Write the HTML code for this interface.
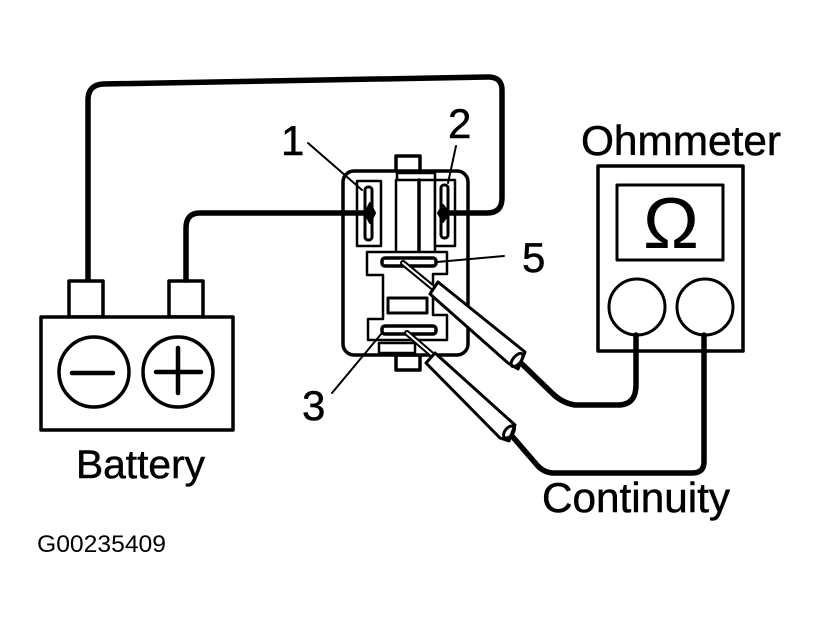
<!DOCTYPE html>
<html>
<head>
<meta charset="utf-8">
<style>
html,body{margin:0;padding:0;background:#fff;}
svg{display:block;}
text{font-family:"Liberation Sans",sans-serif;fill:#000;stroke:#000;stroke-width:0.5px;}
</style>
</head>
<body>
<svg width="818" height="626" viewBox="0 0 818 626" xmlns="http://www.w3.org/2000/svg">
<rect width="818" height="626" fill="#fff"/>
<g fill="none" stroke="#000" stroke-linejoin="round" stroke-linecap="round">
  <!-- Battery -->
  <g stroke-width="3.5">
    <rect x="69" y="281" width="34" height="36"/>
    <rect x="169" y="281" width="34" height="36"/>
    <rect x="41" y="317" width="192" height="113" fill="#fff"/>
    <circle cx="94" cy="372" r="35"/>
    <circle cx="178" cy="372" r="35"/>
    <path d="M72 373H113" stroke-width="4.5"/>
    <path d="M156 372H201M178 348V393" stroke-width="4.5"/>
  </g>

  <!-- Relay -->
  <rect x="396" y="156" width="24" height="17" stroke-width="3.5"/>
  <rect x="396" y="355" width="24" height="15" stroke-width="3.5"/>
  <rect x="343" y="171" width="125" height="184" rx="11" fill="#fff" stroke-width="3.5"/>
  <path d="M397 173H435V180H397ZM396 180V252" stroke-width="2.5"/>
  <path d="M419 180V252" stroke-width="3.5"/>
  <path d="M435 180V252" stroke-width="2.5"/>
  <rect x="357" y="181" width="24" height="65" stroke-width="2.5" fill="#fff"/>
  <rect x="435" y="180" width="20" height="66" stroke-width="2.5" fill="#fff"/>
  <rect x="365" y="187" width="7" height="53" rx="3" stroke-width="3"/>
  <rect x="441" y="185" width="7" height="53" rx="3" stroke-width="3"/>
  <path d="M367 252H447V274H433V315H447V340H368V319H383V275H367Z" fill="#fff" stroke-width="2.5"/>
  <rect x="382" y="258" width="54" height="8" rx="3" stroke-width="3.5"/>
  <rect x="382" y="326" width="54" height="8" rx="3" stroke-width="3.5"/>
  <rect x="388" y="298" width="39" height="15" stroke-width="3"/>
  <rect x="379" y="343" width="36" height="10" stroke-width="2.5"/>

  <!-- Battery wires, drawn over the relay -->
  <path d="M88 280V100Q88 85 103 84L488 77Q502 77 502 90V198Q502 213 487 213H445" stroke-width="5.5"/>
  <path d="M186 280V228Q186 213 200 213H370" stroke-width="5.5"/>

  <!-- Wire contacts -->
  <path d="M370 203L375 213L370 223L365 213Z" fill="#000" stroke-width="2"/>
  <path d="M443 205L449 213L443 222L438 213Z" fill="#000" stroke-width="2"/>

  <!-- Leader lines -->
  <g stroke-width="2">
    <path d="M308 143L362 190"/>
    <path d="M456 146L448 183"/>
    <path d="M332 393L382 333"/>
    <path d="M437 262L504 256"/>
  </g>

  <!-- Probe tips -->
  <path d="M403 263L437 291" stroke-width="6"/>
  <path d="M403 263L437 291" stroke="#fff" stroke-width="2"/>
  <path d="M407 333L436 358" stroke-width="6"/>
  <path d="M407 333L436 358" stroke="#fff" stroke-width="2"/>

  <!-- Probe bodies -->
  <path d="M438 282L525 352L518 369L508 363L430 294Z" fill="#fff" stroke-width="3"/>
  <path d="M435 353L515 425L509 441L500 438L426 363Z" fill="#fff" stroke-width="3"/>
  <ellipse cx="517" cy="360" rx="4" ry="8" transform="rotate(40 517 360)" stroke-width="3"/>
  <ellipse cx="509" cy="432" rx="4" ry="7" transform="rotate(40 509 432)" stroke-width="3"/>

  <!-- Ohmmeter -->
  <rect x="598" y="166" width="145" height="185" fill="#fff" stroke-width="3.5"/>
  <rect x="617" y="185" width="106" height="75" stroke-width="3"/>
  <circle cx="637" cy="307" r="28" stroke-width="3"/>
  <circle cx="705" cy="307" r="28" stroke-width="3"/>

  <!-- Meter wires -->
  <path d="M636 335V385Q636 405 618 405H575Q562 403 552 393L522 364" stroke-width="5.5"/>
  <path d="M704 335V462Q704 473 692 473H552Q543 472 537 465L512 436" stroke-width="5.5"/>
</g>

<text x="643" y="248" font-size="72" textLength="56" lengthAdjust="spacingAndGlyphs" style="stroke-width:0">Ω</text>
<text x="76" y="478" font-size="40" textLength="129" lengthAdjust="spacingAndGlyphs">Battery</text>
<text x="581" y="155" font-size="42" textLength="200" lengthAdjust="spacingAndGlyphs">Ohmmeter</text>
<text x="542" y="512" font-size="42" textLength="188" lengthAdjust="spacingAndGlyphs">Continuity</text>
<text x="37" y="552" font-size="24.5" textLength="129" lengthAdjust="spacingAndGlyphs" style="stroke-width:0">G00235409</text>
<text x="281" y="155" font-size="42">1</text>
<text x="448" y="138" font-size="42">2</text>
<text x="302" y="420" font-size="42">3</text>
<text x="522" y="272" font-size="42">5</text>
</svg>
</body>
</html>
